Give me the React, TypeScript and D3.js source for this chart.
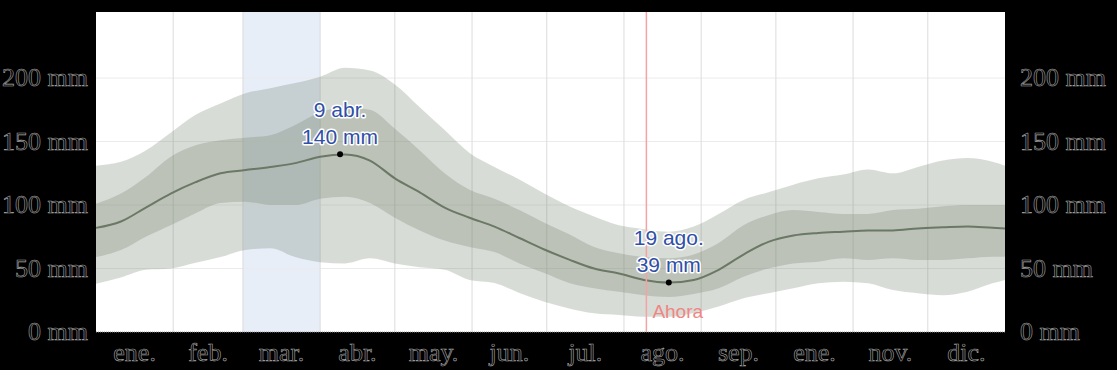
import React from 'react';
import * as d3 from 'd3';

// day of year for every sample
const days = [0, 10, 20, 30, 40, 50, 60, 70, 80, 90, 100, 110, 120, 130, 140, 150, 160, 170, 180, 190, 200, 210, 220, 230, 240, 250, 260, 270, 280, 290, 300, 310, 320, 330, 340, 350, 360, 365];

// rainfall, mm (sliding 31-day total)
const p90 = [131, 134, 143, 157, 171, 180, 188, 192, 196, 201, 208, 206, 195, 177, 159, 141, 130, 120, 109, 99, 91, 84, 81, 79, 83, 93, 104, 110, 116, 121, 124, 128, 125, 130, 135, 137, 134, 131];
const p75 = [101, 109, 122, 138, 147, 151, 153, 155, 163, 173, 177, 175, 160, 143, 125, 112, 105, 96, 86, 77, 67, 62, 59, 58, 61, 70, 84, 92, 96, 94.5, 93, 93, 96, 97, 99, 100, 100, 100];
const median = [82, 87, 98, 109, 118, 125, 127.5, 130, 133, 138, 139.8, 135, 121, 110, 98, 90, 83, 74, 65, 57, 50, 46, 41, 39, 41, 49, 61, 71, 76, 78, 79, 80, 80, 81.6, 82.4, 83, 82, 81.6];
const p25 = [59, 64.5, 75, 84, 93.5, 101.6, 102.6, 100, 100, 105, 106.6, 101.6, 90, 80, 72, 67, 63, 54, 46.5, 38.6, 34.4, 31.6, 29, 27.6, 30, 34.4, 43.6, 50, 54, 55.4, 58, 56.7, 58, 56.7, 56.7, 58, 59.3, 59.3];
const p10 = [38, 43, 49, 50, 54.5, 59, 64.5, 66, 59, 55, 54, 58, 54, 51, 49, 41, 38.6, 30.7, 23.8, 18.6, 14.7, 13.4, 12, 12, 15, 20, 26.5, 30.5, 34.4, 38.3, 39.6, 38.3, 33, 30.5, 29, 31.7, 38.3, 41];

const monthStarts = [0, 31, 59, 90, 120, 151, 181, 212, 243, 273, 304, 334, 365];
const monthLabels = ['ene.', 'feb.', 'mar.', 'abr.', 'may.', 'jun.', 'jul.', 'ago.', 'sep.', 'ene.', 'nov.', 'dic.'];
const yTicks = [0, 50, 100, 150, 200];

const annotations = [
  { day: 98, value: 140, date: '9 abr.' },
  { day: 230, value: 39, date: '19 ago.' },
];
const nowDay = 221;

export default function App() {
  const W = 1117, H = 370;
  const left = 96, right = 1005, top = 12, bottom = 332;

  const x = d3.scaleLinear().domain([0, 365]).range([left, right]);
  const y = d3.scaleLinear().domain([0, 252]).range([bottom, top]);

  const rows = days.map((d, i) => ({ d, p10: p10[i], p25: p25[i], m: median[i], p75: p75[i], p90: p90[i] }));

  const outer = d3.area<any>().x(r => x(r.d)).y0(r => y(r.p10)).y1(r => y(r.p90)).curve(d3.curveMonotoneX);
  const inner = d3.area<any>().x(r => x(r.d)).y0(r => y(r.p25)).y1(r => y(r.p75)).curve(d3.curveMonotoneX);
  const line = d3.line<any>().x(r => x(r.d)).y(r => y(r.m)).curve(d3.curveMonotoneX);

  const axisFont = { fontFamily: '"Liberation Serif", "Times New Roman", serif', fontSize: 26, fill: '#000', stroke: '#a8a8a8', strokeWidth: 0.6 };

  return (
    <div style={{ position: 'fixed', left: 0, top: 0 }}>
      <svg width={W} height={H} style={{ display: 'block' }}>
        <rect x={0} y={0} width={W} height={H} fill="#000" />
        <rect x={left} y={top} width={right - left} height={bottom - top} fill="#fff" />
        {/* March highlight */}
        <rect x={x(monthStarts[2])} y={top} width={x(monthStarts[3]) - x(monthStarts[2])} height={bottom - top} fill="#e7eef8" />

        {yTicks.filter(t => t > 0).map(t => (
          <line key={t} x1={left} x2={right} y1={y(t)} y2={y(t)} stroke="#ebebeb" strokeWidth={1} />
        ))}
        {monthStarts.slice(1, -1).map(m => (
          <line key={m} x1={x(m)} x2={x(m)} y1={top} y2={bottom} stroke="#dcdcdc" strokeWidth={1} />
        ))}

        <path d={outer(rows) || ''} fill="rgb(116,130,109)" fillOpacity={0.28} />
        <path d={inner(rows) || ''} fill="rgb(116,130,109)" fillOpacity={0.28} />
        <path d={line(rows) || ''} fill="none" stroke="#6b7866" strokeWidth={2} />

        <line x1={x(nowDay)} x2={x(nowDay)} y1={top} y2={bottom} stroke="#f3a3a3" strokeWidth={1.5} />
        <text x={x(nowDay) + 6} y={318} fill="#f08585" fontFamily='"Liberation Sans", Arial, sans-serif' fontSize={19}>Ahora</text>

        <line x1={left} x2={right} y1={bottom} y2={bottom} stroke="#999" strokeWidth={1} strokeDasharray="1,1" />

        {annotations.map(a => (
          <g key={a.date}>
            <circle cx={x(a.day)} cy={y(a.value)} r={3} fill="#000" />
            <text x={x(a.day)} y={y(a.value) - 37} textAnchor="middle" fontFamily='"Liberation Sans", Arial, sans-serif' fontSize={21}
              fill="#2f4fa8" stroke="#fff" strokeWidth={3} strokeLinejoin="round" style={{ paintOrder: 'stroke' }}>{a.date}</text>
            <text x={x(a.day)} y={y(a.value) - 10} textAnchor="middle" fontFamily='"Liberation Sans", Arial, sans-serif' fontSize={21}
              fill="#2f4fa8" stroke="#fff" strokeWidth={3} strokeLinejoin="round" style={{ paintOrder: 'stroke' }}>{a.value} mm</text>
          </g>
        ))}

        {yTicks.map(t => (
          <g key={t}>
            <text x={88} y={y(t) + 8} textAnchor="end" {...axisFont}>{t} mm</text>
            <text x={1020} y={y(t) + 8} textAnchor="start" {...axisFont}>{t} mm</text>
          </g>
        ))}
        {monthLabels.map((m, i) => (
          <text key={i} x={(x(monthStarts[i]) + x(monthStarts[i + 1])) / 2} y={361} textAnchor="middle" {...axisFont}>{m}</text>
        ))}
      </svg>
    </div>
  );
}
